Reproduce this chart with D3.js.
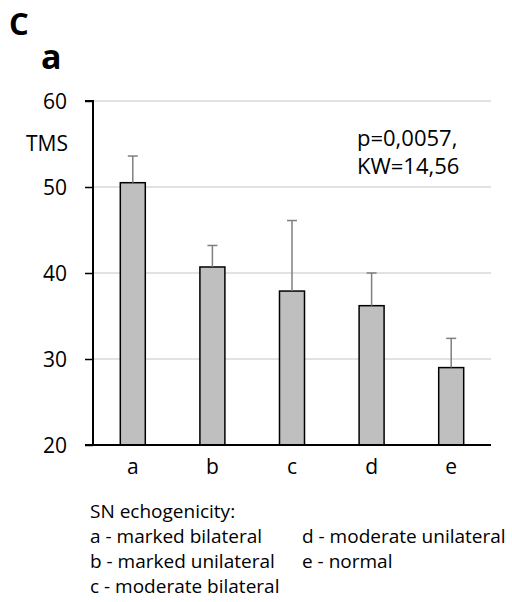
<!DOCTYPE html>
<html>
<head>
<meta charset="utf-8">
<script src="https://cdn.jsdelivr.net/npm/d3@7"></script>
<style>
  html, body { margin: 0; padding: 0; background: #fff; }
  svg { display: block; font-family: "Open Sans", "Noto Sans", sans-serif; }
</style>
</head>
<body>
<svg id="chart" width="512" height="602"></svg>
<script>
const categories = ["a", "b", "c", "d", "e"];
const means = [50.5, 40.7, 37.9, 36.2, 29.0];
const errors = [3.1, 2.5, 8.2, 3.8, 3.4];
const yTicks = [20, 30, 40, 50, 60];
const yLabel = "TMS";
const statLines = ["p=0,0057,", "KW=14,56"];
const legendTitle = "SN echogenicity:";
const legendCol1 = ["a - marked bilateral", "b - marked unilateral", "c - moderate bilateral"];
const legendCol2 = ["d - moderate unilateral", "e - normal"];

(function () {
const svg = d3.select("#chart");
const pLeft = 93, pRight = 491, pTop = 101, pBottom = 445;

const x = d3.scaleBand().domain(categories).range([pLeft, pRight])
  .paddingInner(0.686).paddingOuter(0.343);
const y = d3.scaleLinear().domain([20, 60]).range([pBottom, pTop]);

// panel letters
svg.append("text").attr("x", 9).attr("y", 35).attr("font-size", 31)
  .attr("font-weight", "bold").text("C");
svg.append("text").attr("x", 41).attr("y", 69).attr("font-size", 34)
  .attr("font-weight", "bold").text("a");

// gridlines
svg.append("g").selectAll("line").data(yTicks.filter(d => d > 20)).join("line")
  .attr("x1", pLeft).attr("x2", pRight)
  .attr("y1", d => y(d)).attr("y2", d => y(d))
  .attr("stroke", "#d9d9d9").attr("stroke-width", 1.5);

// y axis
const yAxis = d3.axisLeft(y).tickValues(yTicks).tickSize(8).tickPadding(18);
const gy = svg.append("g").attr("transform", `translate(${pLeft},0)`).call(yAxis);
gy.select(".domain").attr("stroke", "#000").attr("stroke-width", 2)
  .attr("d", `M-8,${y(60)}H0V${y(20)}H-8`);
gy.selectAll(".tick line").attr("stroke", "#000").attr("stroke-width", 1.5);
gy.selectAll(".tick text").attr("font-size", 21).attr("fill", "#000")
  .attr("font-family", "'Open Sans', sans-serif").attr("dy", "0.36em");

svg.append("text").attr("x", 68).attr("y", 151).attr("text-anchor", "end")
  .attr("font-size", 21).text(yLabel);

// bars
svg.append("g").selectAll("rect").data(categories).join("rect")
  .attr("x", d => x(d)).attr("width", x.bandwidth())
  .attr("y", (d, i) => y(means[i]))
  .attr("height", (d, i) => y(20) - y(means[i]))
  .attr("fill", "#bfbfbf").attr("stroke", "#000").attr("stroke-width", 1.5);

// error bars
const eg = svg.append("g").attr("stroke", "#7f7f7f").attr("stroke-width", 1.5);
eg.selectAll("line.v").data(categories).join("line").attr("class", "v")
  .attr("x1", d => x(d) + x.bandwidth() / 2).attr("x2", d => x(d) + x.bandwidth() / 2)
  .attr("y1", (d, i) => y(means[i])).attr("y2", (d, i) => y(means[i] + errors[i]));
eg.selectAll("line.c").data(categories).join("line").attr("class", "c")
  .attr("x1", d => x(d) + x.bandwidth() / 2 - 5).attr("x2", d => x(d) + x.bandwidth() / 2 + 5)
  .attr("y1", (d, i) => y(means[i] + errors[i])).attr("y2", (d, i) => y(means[i] + errors[i]));

// x axis
const xAxis = d3.axisBottom(x).tickSize(0).tickPadding(14);
const gx = svg.append("g").attr("transform", `translate(0,${pBottom})`).call(xAxis);
gx.select(".domain").attr("stroke", "#000").attr("stroke-width", 2)
  .attr("d", `M${pLeft},0H${pRight}`);
gx.selectAll(".tick text").attr("font-size", 21).attr("fill", "#000")
  .attr("font-family", "'Open Sans', sans-serif");

// stats text
svg.append("g").selectAll("text").data(statLines).join("text")
  .attr("x", 357).attr("y", (d, i) => 146 + i * 28)
  .attr("font-size", 22).text(d => d);

// legend
const lx1 = 90, lx2 = 302, lfs = 19;
svg.append("text").attr("x", lx1).attr("y", 518).attr("font-size", lfs).text(legendTitle);
svg.append("g").selectAll("text").data(legendCol1).join("text")
  .attr("x", lx1).attr("y", (d, i) => 543 + i * 25)
  .attr("font-size", lfs).text(d => d);
svg.append("g").selectAll("text").data(legendCol2).join("text")
  .attr("x", lx2).attr("y", (d, i) => 543 + i * 25)
  .attr("font-size", lfs).text(d => d);
})();
</script>
</body>
</html>
